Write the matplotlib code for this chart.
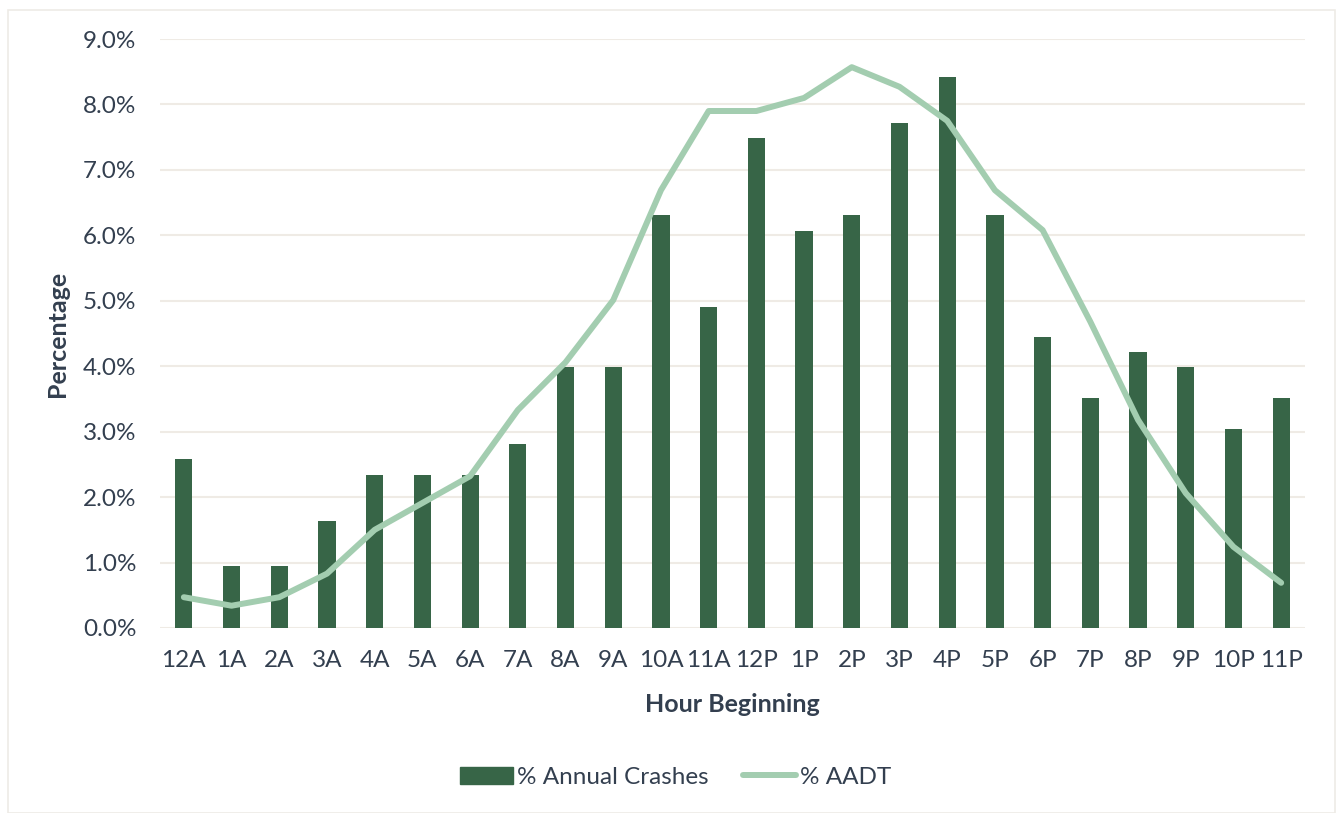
import matplotlib.pyplot as plt
from matplotlib.ticker import FuncFormatter
import matplotlib.patches as mpatches

hours = ['12A', '1A', '2A', '3A', '4A', '5A', '6A', '7A', '8A', '9A', '10A', '11A',
         '12P', '1P', '2P', '3P', '4P', '5P', '6P', '7P', '8P', '9P', '10P', '11P']
crashes = [2.58, 0.95, 0.95, 1.64, 2.34, 2.34, 2.34, 2.81, 3.99, 3.99, 6.31, 4.91,
           7.49, 6.07, 6.31, 7.72, 8.42, 6.31, 4.45, 3.51, 4.22, 3.99, 3.04, 3.51]
aadt = [0.47, 0.34, 0.47, 0.83, 1.50, 1.91, 2.32, 3.33, 4.06, 5.01, 6.69, 7.90,
        7.90, 8.10, 8.57, 8.27, 7.75, 6.69, 6.08, 4.68, 3.18, 2.06, 1.24, 0.69]

bar_color = '#376547'
line_color = '#A3CDB0'
text_color = '#333F4F'
grid_color = '#EFEBE5'

plt.rcParams['font.family'] = ['Lato', 'DejaVu Sans']

fig = plt.figure(figsize=(13.4, 8.13), dpi=100)
ax = fig.add_axes([0.1194, 0.2276, 0.8545, 0.7244])

x = range(len(hours))
ax.bar(x, crashes, width=0.36, color=bar_color, zorder=2, label='% Annual Crashes')
ax.plot(x, aadt, color=line_color, lw=4.3, solid_capstyle='round',
        solid_joinstyle='round', zorder=3, label='% AADT')

ax.set_xlim(-0.5, len(hours) - 0.5)
ax.set_ylim(0, 9)
ax.set_yticks([i for i in range(10)])
ax.yaxis.set_major_formatter(FuncFormatter(lambda v, p: f'{v:.1f}%'))
ax.set_xticks(list(x))
ax.set_xticklabels(hours)

ax.grid(axis='y', color=grid_color, lw=1.5, zorder=0)
for s in ax.spines.values():
    s.set_visible(False)
ax.tick_params(length=0, labelsize=17.5, colors=text_color)
ax.tick_params(axis='x', pad=16)
ax.tick_params(axis='y', pad=17)

ax.set_xlabel('Hour Beginning', fontsize=18, fontweight='bold', color=text_color, labelpad=16)
ax.set_ylabel('Percentage', fontsize=18, fontweight='bold', color=text_color, labelpad=10)

bar_patch = mpatches.Patch(color=bar_color, label='% Annual Crashes')
line_handle = plt.Line2D([], [], color=line_color, lw=4.3, solid_capstyle='round', label='% AADT')
leg = fig.legend(handles=[bar_patch, line_handle], loc='center', bbox_to_anchor=(0.504, 0.044),
                 ncol=2, frameon=False, fontsize=17.5, handlelength=2.2, handletextpad=0.15,
                 columnspacing=1.4)
for t in leg.get_texts():
    t.set_color(text_color)

# thin outer frame around the whole chart
fig.patches.append(mpatches.Rectangle((0.006, 0.0), 0.99, 0.988, transform=fig.transFigure,
                                      fill=False, edgecolor='#EEEBE6', lw=1.2))

fig.savefig('out.png', dpi=100)
